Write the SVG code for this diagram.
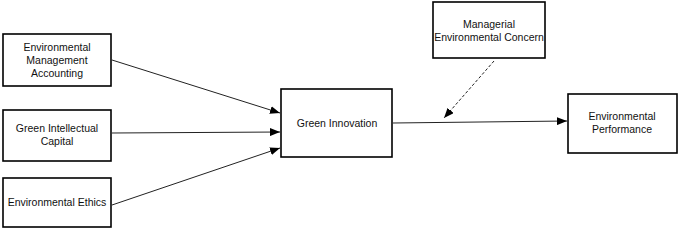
<svg xmlns="http://www.w3.org/2000/svg" width="680" height="230" viewBox="0 0 680 230">
<defs>
<marker id="ah" markerWidth="10" markerHeight="8" refX="10" refY="4" orient="auto" markerUnits="userSpaceOnUse">
<path d="M0,0 L10,4 L0,8 Z" fill="#000"/>
</marker>
<style>
.box{fill:#fff;stroke:#000;stroke-width:1.6}
.lbl{font-family:"Liberation Sans",Arial,sans-serif;font-size:10.5px;fill:#111;text-anchor:middle}
.con{stroke:#222;stroke-width:1;fill:none;marker-end:url(#ah)}
.dash{stroke-dasharray:3,2}
</style>
</defs>
<rect width="680" height="230" fill="#fff"/>
<g id="emaccounting">
<rect class="box" x="3" y="34" width="108" height="52"/>
<text class="lbl" x="57" y="51">Environmental</text>
<text class="lbl" x="57" y="64">Management</text>
<text class="lbl" x="57" y="77">Accounting</text>
</g>
<g id="gicapital">
<rect class="box" x="3" y="110" width="108" height="51"/>
<text class="lbl" x="57" y="132">Green Intellectual</text>
<text class="lbl" x="57" y="145">Capital</text>
</g>
<g id="ethics">
<rect class="box" x="3" y="178" width="108" height="49"/>
<text class="lbl" x="57" y="206">Environmental Ethics</text>
</g>
<g id="innovation">
<rect class="box" x="281" y="89" width="111" height="68"/>
<text class="lbl" x="337" y="127">Green Innovation</text>
</g>
<g id="concern">
<rect class="box" x="433" y="2" width="112" height="56"/>
<text class="lbl" x="489" y="28">Managerial</text>
<text class="lbl" x="489" y="41">Environmental Concern</text>
</g>
<g id="performance">
<rect class="box" x="568" y="94" width="109" height="59"/>
<text class="lbl" x="622" y="120">Environmental</text>
<text class="lbl" x="622" y="133">Performance</text>
</g>
<g id="connectors">
<line class="con" x1="112" y1="60" x2="280" y2="113"/>
<line class="con" x1="112" y1="133" x2="280" y2="132"/>
<line class="con" x1="112" y1="205" x2="280" y2="148"/>
<line class="con" x1="393" y1="123" x2="567" y2="121"/>
<line class="con dash" x1="494" y1="61" x2="444" y2="118"/>
</g>
</svg>
